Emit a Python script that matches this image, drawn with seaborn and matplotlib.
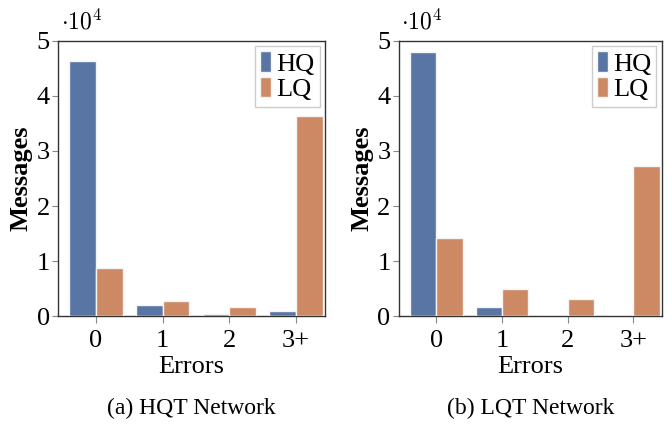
import pandas as pd
import matplotlib
matplotlib.use("Agg")
import matplotlib.pyplot as plt
import seaborn as sns

# data (messages per error bucket)
errors = ["0", "1", "2", "3+"]
hqt_hq = [46400, 2000, 300, 850]
hqt_lq = [8700, 2700, 1700, 36400]
lqt_hq = [47900, 1600, 0, 50]
lqt_lq = [14100, 5000, 3100, 27300]
series = ["HQ", "LQ"]
captions = ["(a) HQT Network", "(b) LQT Network"]


def make_df(hq, lq):
    rows = []
    for e, v in zip(errors, hq):
        rows.append({"Errors": e, "Quality": "HQ", "Messages": v / 1e4})
    for e, v in zip(errors, lq):
        rows.append({"Errors": e, "Quality": "LQ", "Messages": v / 1e4})
    return pd.DataFrame(rows)


sns.set_theme(style="ticks", palette="deep")
plt.rcParams["font.family"] = ["Liberation Serif", "DejaVu Serif"]
plt.rcParams["mathtext.fontset"] = "cm"
plt.rcParams["text.color"] = "black"
plt.rcParams["axes.labelcolor"] = "black"
plt.rcParams["xtick.labelcolor"] = "black"
plt.rcParams["ytick.labelcolor"] = "black"

fig = plt.figure(figsize=(6.67, 4.26), dpi=100)
ax1 = fig.add_axes([0.087, 0.258, 0.400, 0.646])
ax2 = fig.add_axes([0.598, 0.258, 0.394, 0.646])

for ax, (hq, lq), cap in zip([ax1, ax2], [(hqt_hq, hqt_lq), (lqt_hq, lqt_lq)], captions):
    df = make_df(hq, lq)
    sns.barplot(data=df, x="Errors", y="Messages", hue="Quality", hue_order=series,
                order=errors, ax=ax, edgecolor="#f4f4f4", linewidth=1, zorder=3)
    ax.set_ylim(0, 5)
    ax.set_xlim(-0.57, 3.43)
    ax.set_yticks([0, 1, 2, 3, 4, 5])
    ax.tick_params(axis="both", labelsize=19, color="#888888", length=4, width=0.8, pad=2)
    ax.tick_params(axis="x", length=5, pad=5)
    for s in ax.spines.values():
        s.set_visible(True)
        s.set_color("#333333")
        s.set_linewidth(1.0)
        s.set_zorder(2)
    ax.set_xlabel("Errors", fontsize=19, labelpad=3)
    ax.set_ylabel("Messages", fontsize=19, fontweight="bold", labelpad=3)
    ax.text(0.01, 1.025, r"$\cdot 10^4$", transform=ax.transAxes, fontsize=17,
            ha="left", va="bottom")
    handles, labels = ax.get_legend_handles_labels()
    ax.legend(handles, labels, loc="upper right", fontsize=19, frameon=True,
              fancybox=False, edgecolor="#cccccc", framealpha=1,
              handlelength=0.4, handleheight=0.8, handletextpad=0.2,
              borderpad=0.2, labelspacing=0.05, borderaxespad=0.2)
    pos = ax.get_position()
    fig.text((pos.x0 + pos.x1) / 2, 0.042, cap, fontsize=17, ha="center", va="center")

fig.savefig("out.png", dpi=100)
